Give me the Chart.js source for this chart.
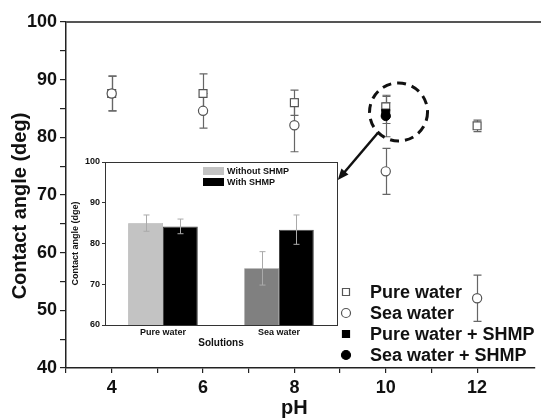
<!DOCTYPE html>
<html>
<head>
<meta charset="utf-8">
<script src="https://cdn.jsdelivr.net/npm/chart.js@4.4.1/dist/chart.umd.min.js"></script>
<style>
  html, body { margin: 0; padding: 0; background: #fff; }
  #wrap { position: relative; width: 541px; height: 419px; }
  #main { position: absolute; left: 0; top: 0; }
  #inset { position: absolute; left: 70px; top: 150px; }
</style>
</head>
<body>
<div id="wrap">
  <canvas id="main" width="541" height="419"></canvas>
  <canvas id="inset" width="275" height="205"></canvas>
</div>
<script>
// main plot: contact angle vs pH
var phValues = [4, 6, 8, 10, 12];
var pureWater = [87.6, 87.6, 86.0, 85.3, 82.0];
var pureWaterErr = [3.0, 3.4, 2.2, 1.8, 1.0];
var seaWater = [87.6, 84.6, 82.1, 74.1, 52.1];
var seaWaterErr = [3.0, 3.0, 4.6, 4.0, 4.0];
var shmpPh = [10];
var pureShmp = [84.2];
var pureShmpErr = [1.8];
var seaShmp = [83.7];
var seaShmpErr = [3.6];
var yTicksMain = [40, 50, 60, 70, 80, 90, 100];
var xTicksMain = [4, 6, 8, 10, 12];

// inset: bars at pH 10
var solutions = ['Pure water', 'Sea water'];
var withoutShmp = [85.0, 73.9];
var withoutShmpErr = [2.0, 4.1];
var withShmp = [84.2, 83.4];
var withShmpErr = [1.8, 3.6];
var yTicksInset = [60, 70, 80, 90, 100];

var FONT = '"Liberation Sans", Arial, sans-serif';
Chart.defaults.font.family = FONT;
Chart.defaults.color = '#111';

function toPoints(xs, ys) {
  return xs.map(function(x, i) { return {x: x, y: ys[i]}; });
}

// ==========================================================================
// error bars, drawn through the y scale
// ==========================================================================
function errorBars(id, color, cap, width, onTop) {
  function draw(chart) {
    var ctx = chart.ctx, ys = chart.scales.y;
    ctx.save();
    ctx.strokeStyle = color;
    ctx.lineWidth = width;
    chart.data.datasets.forEach(function(ds, di) {
      if (!ds.err) return;
      var meta = chart.getDatasetMeta(di);
      meta.data.forEach(function(el, i) {
        var v = typeof ds.data[i] === 'object' ? ds.data[i].y : ds.data[i];
        var top = ys.getPixelForValue(v + ds.err[i]);
        var bot = ys.getPixelForValue(v - ds.err[i]);
        var x = Math.round(el.x) + 0.5;
        ctx.beginPath();
        ctx.moveTo(x, top); ctx.lineTo(x, bot);
        ctx.moveTo(x - cap, top); ctx.lineTo(x + cap, top);
        ctx.moveTo(x - cap, bot); ctx.lineTo(x + cap, bot);
        ctx.stroke();
      });
    });
    ctx.restore();
  }
  var p = {id: id};
  if (onTop) p.afterDatasetsDraw = draw; else p.beforeDatasetsDraw = draw;
  return p;
}

function marker(ctx, style, x, y, r, fill, stroke) {
  ctx.beginPath();
  if (style === 'rect') ctx.rect(x - r, y - r, 2 * r, 2 * r);
  else ctx.arc(x, y, r, 0, Math.PI * 2);
  ctx.fillStyle = fill;
  ctx.fill();
  ctx.strokeStyle = stroke;
  ctx.lineWidth = 1.2;
  ctx.stroke();
}

var mainDecor = {
  id: 'mainDecor',
  afterDraw: function(chart) {
    var ctx = chart.ctx, a = chart.chartArea;
    var xs = chart.scales.x, ys = chart.scales.y;
    ctx.save();

    // top frame line
    ctx.strokeStyle = '#555';
    ctx.lineWidth = 2;
    ctx.beginPath();
    ctx.moveTo(a.left, a.top);
    ctx.lineTo(chart.width, a.top);
    ctx.stroke();

    // axis titles
    ctx.fillStyle = '#111';
    ctx.textAlign = 'center';
    ctx.textBaseline = 'middle';
    ctx.font = 'bold 20px ' + FONT;
    ctx.fillText('pH', xs.getPixelForValue(8), 408);
    ctx.translate(20, (a.top + a.bottom) / 2 + 11);
    ctx.rotate(-Math.PI / 2);
    ctx.fillText('Contact angle (deg)', 0, 0);
    ctx.setTransform(1, 0, 0, 1, 0, 0);

    // dashed circle round the pH 10 points
    ctx.strokeStyle = '#111';
    ctx.lineWidth = 3;
    ctx.setLineDash([9, 6]);
    ctx.beginPath();
    ctx.arc(xs.getPixelForValue(10.28), ys.getPixelForValue(84.4), 29, 0, Math.PI * 2);
    ctx.stroke();
    ctx.setLineDash([]);

    // arrow to the inset
    var x0 = xs.getPixelForValue(9.83), y0 = ys.getPixelForValue(80.8);
    var x1 = xs.getPixelForValue(8.95), y1 = ys.getPixelForValue(72.6);
    var ang = Math.atan2(y1 - y0, x1 - x0);
    ctx.lineWidth = 2.5;
    ctx.beginPath();
    ctx.moveTo(x0, y0);
    ctx.lineTo(x1 - 5 * Math.cos(ang), y1 - 5 * Math.sin(ang));
    ctx.stroke();
    ctx.fillStyle = '#111';
    ctx.beginPath();
    ctx.moveTo(x1, y1);
    ctx.lineTo(x1 - 12 * Math.cos(ang - 0.4), y1 - 12 * Math.sin(ang - 0.4));
    ctx.lineTo(x1 - 12 * Math.cos(ang + 0.4), y1 - 12 * Math.sin(ang + 0.4));
    ctx.closePath();
    ctx.fill();

    // legend
    var rows = [
      ['Pure water', 'rect', '#fff', '#555', 3.5],
      ['Sea water', 'circle', '#fff', '#555', 4.5],
      ['Pure water + SHMP', 'rect', '#000', '#000', 3.5],
      ['Sea water + SHMP', 'circle', '#000', '#000', 4.5]
    ];
    ctx.font = 'bold 18px ' + FONT;
    ctx.textAlign = 'left';
    rows.forEach(function(r, i) {
      var y = 292 + i * 21;
      marker(ctx, r[1], 346, y, r[4], r[2], r[3]);
      ctx.fillStyle = '#111';
      ctx.fillText(r[0], 370, y + 1);
    });
    ctx.restore();
  }
};

new Chart(document.getElementById('main'), {
  type: 'scatter',
  data: {
    datasets: [
      {label: 'Pure water', data: toPoints(phValues, pureWater), err: pureWaterErr,
       pointStyle: 'rect', pointRadius: 5.6, backgroundColor: '#fff', borderColor: '#555',
       pointBorderWidth: 1.2, order: 3},
      {label: 'Sea water', data: toPoints(phValues, seaWater), err: seaWaterErr,
       pointStyle: 'circle', pointRadius: 4.6, backgroundColor: '#fff', borderColor: '#555',
       pointBorderWidth: 1.2, order: 2},
      {label: 'Pure water + SHMP', data: toPoints(shmpPh, pureShmp), err: pureShmpErr,
       pointStyle: 'rect', pointRadius: 5.6, backgroundColor: '#000', borderColor: '#000',
       pointBorderWidth: 1, order: 1},
      {label: 'Sea water + SHMP', data: toPoints(shmpPh, seaShmp), err: seaShmpErr,
       pointStyle: 'circle', pointRadius: 4.6, backgroundColor: '#000', borderColor: '#000',
       pointBorderWidth: 1, order: 0}
    ]
  },
  options: {
    responsive: false,
    animation: false,
    devicePixelRatio: 1,
    layout: {padding: {top: 22, right: 0, left: 0, bottom: 0}},
    plugins: {legend: {display: false}, tooltip: {enabled: false}},
    scales: {
      x: {
        type: 'linear', min: 3, max: 13.25,
        afterFit: function(s) { s.height = 51; },
        afterBuildTicks: function(s) {
          s.ticks = [3, 4, 5, 6, 7, 8, 9, 10, 11, 12].map(function(v) { return {value: v}; });
        },
        ticks: {
          autoSkip: false, maxRotation: 0, padding: 4,
          font: {size: 18, weight: 'bold'}, color: '#111',
          callback: function(v) { return xTicksMain.indexOf(v) >= 0 ? String(v) : ''; }
        },
        grid: {drawOnChartArea: false, tickLength: 5, color: '#222', lineWidth: 1.2},
        border: {color: '#222', width: 1.5}
      },
      y: {
        min: 40, max: 100,
        afterFit: function(s) { s.width = 66; },
        afterBuildTicks: function(s) {
          var t = [];
          for (var v = 40; v <= 100; v += 5) t.push({value: v});
          s.ticks = t;
        },
        ticks: {
          autoSkip: false, padding: 3,
          font: {size: 18, weight: 'bold'}, color: '#111',
          callback: function(v) { return yTicksMain.indexOf(v) >= 0 ? String(v) : ''; }
        },
        grid: {drawOnChartArea: false, tickLength: 6, color: '#222', lineWidth: 1.2},
        border: {color: '#222', width: 1.5}
      }
    }
  },
  plugins: [errorBars('mainErr', '#666', 4, 1.2, false), mainDecor]
});

// ==========================================================================
// inset bar chart
// ==========================================================================
var insetDecor = {
  id: 'insetDecor',
  afterDraw: function(chart) {
    var ctx = chart.ctx, a = chart.chartArea;
    ctx.save();
    ctx.strokeStyle = '#333';
    ctx.lineWidth = 1;
    ctx.strokeRect(Math.round(a.left) + 0.5, Math.round(a.top) + 0.5,
                   Math.round(a.right - a.left), Math.round(a.bottom - a.top));

    var items = [['Without SHMP', '#c3c3c3'], ['With SHMP', '#000']];
    ctx.font = 'bold 9px ' + FONT;
    ctx.textBaseline = 'middle';
    items.forEach(function(it, i) {
      var y = 17 + i * 11;
      ctx.fillStyle = it[1];
      ctx.fillRect(133, y, 21, 8);
      ctx.fillStyle = '#111';
      ctx.fillText(it[0], 157, y + 4.5);
    });
    ctx.restore();
  }
};

new Chart(document.getElementById('inset'), {
  type: 'bar',
  data: {
    labels: solutions,
    datasets: [
      {label: 'Without SHMP', data: withoutShmp, err: withoutShmpErr,
       backgroundColor: ['#c3c3c3', '#808080'], borderColor: '#777', borderWidth: 0.5},
      {label: 'With SHMP', data: withShmp, err: withShmpErr,
       backgroundColor: '#000', borderColor: '#444', borderWidth: 1}
    ]
  },
  options: {
    responsive: false,
    animation: false,
    devicePixelRatio: 1,
    categoryPercentage: 0.6,
    barPercentage: 1.0,
    layout: {padding: {top: 12, right: 8, left: 0, bottom: 6}},
    plugins: {legend: {display: false}, tooltip: {enabled: false}},
    scales: {
      x: {
        afterFit: function(s) { s.height = 24; },
        ticks: {font: {size: 9, weight: 'bold'}, color: '#111', padding: 2},
        grid: {display: false, drawTicks: false},
        border: {color: '#333', width: 1},
        title: {display: true, text: 'Solutions', font: {size: 10, weight: 'bold'}, color: '#111', padding: 0}
      },
      y: {
        min: 60, max: 100,
        afterFit: function(s) { s.width = 35; },
        afterBuildTicks: function(s) {
          s.ticks = yTicksInset.map(function(v) { return {value: v}; });
        },
        ticks: {font: {size: 9, weight: 'bold'}, color: '#111', padding: 2},
        grid: {drawOnChartArea: false, tickLength: 3, color: '#333'},
        border: {color: '#333', width: 1},
        title: {display: true, text: 'Contact angle (dge)', font: {size: 9, weight: 'bold'}, color: '#111', padding: 0}
      }
    }
  },
  plugins: [errorBars('insetErr', '#aaa', 3, 1, true), insetDecor]
});
</script>
</body>
</html>
